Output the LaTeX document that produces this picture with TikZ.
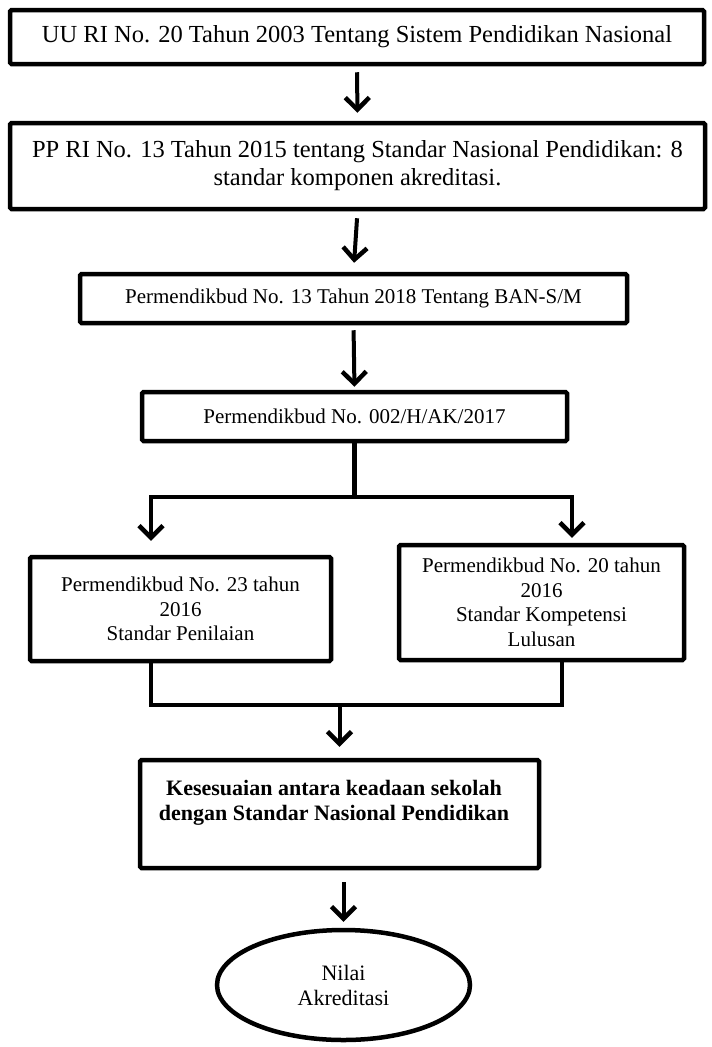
\documentclass[tikz,border=0pt]{standalone}
\usepackage{fontspec}
\setmainfont{Liberation Serif}
\usetikzlibrary{arrows.meta,shapes.geometric}

\begin{document}
\begin{tikzpicture}[x=1pt,y=-1pt,
        box/.style={draw,line width=4.5pt,rounded corners=1.5pt,align=center,inner sep=0pt},
        big/.style={font=\fontsize{24.5}{28}\selectfont},
        small/.style={font=\fontsize{21}{24.5}\selectfont},
        arr/.style={line width=4pt,-{Straight Barb[length=12pt,width=24pt,line width=4.5pt]}},
        conn/.style={line width=4.5pt,line join=miter}]
        \useasboundingbox (0,0) rectangle (712,1047);

        % kotak-kotak
        \node[box,big,minimum width=694,minimum height=54](uu) at (357,37){UU RI No. 20 Tahun 2003 Tentang Sistem Pendidikan Nasional};
        \node[box,big,minimum width=695,minimum height=86](pp) at (357.5,166){PP RI No. 13 Tahun 2015 tentang Standar Nasional Pendidikan: 8\\standar komponen akreditasi.};
        \node[box,small,minimum width=547,minimum height=49](ban) at (353.5,298.5){Permendikbud No. 13 Tahun 2018 Tentang BAN-S/M};
        \node[box,small,minimum width=425,minimum height=49](ak) at (354.5,416.5){Permendikbud No. 002/H/AK/2017};
        \node[box,small,minimum width=301,minimum height=104](sp) at (180.5,609){Permendikbud No. 23 tahun\\2016\\Standar Penilaian};
        \node[box,small,minimum width=285,minimum height=115](skl) at (541.5,602.5){Permendikbud No. 20 tahun\\2016\\Standar Kompetensi\\Lulusan};
        \node[box,minimum width=399,minimum height=108](snp) at (339.5,814){};
        \node[align=center,font=\fontsize{22}{25}\selectfont\bfseries](snptext) at (334,803){Kesesuaian antara keadaan sekolah\\dengan Standar Nasional Pendidikan};
        \node[ellipse,draw,line width=4.5pt,font=\fontsize{22}{25}\selectfont,minimum width=253,minimum height=110,align=center](nilai) at (343.5,985){Nilai\\Akreditasi};

        % panah
        \draw[arr,shorten <=6pt,shorten >=8pt](uu.south)--(pp.north);
        \draw[arr,shorten <=7pt,shorten >=9pt](pp.south)--(ban.north);
        \draw[arr,shorten <=5pt,shorten >=3pt](ban.south)--(ak.north);

        \coordinate(jl) at (151,497);
        \coordinate(jr) at (572,497);
        \draw[conn](ak.south)--(ak.south|-jl);
        \draw[arr,line join=miter,shorten >=14pt](ak.south|-jl)--(jl)--(jl|-sp.north);
        \draw[arr,line join=miter,shorten >=5pt](ak.south|-jl)--(jr)--(jr|-skl.north);

        \coordinate(ml) at (151,705);
        \coordinate(mr) at (562,705);
        \draw[conn](ml|-sp.south)--(ml)--(mr)--(mr|-skl.south);
        \draw[arr,shorten >=11pt](snp.north|-ml)--(snp.north);
        \draw[arr,shorten <=12pt,shorten >=6pt](nilai.north|-snp.south)--(nilai.north);
    \end{tikzpicture}
\end{document}
